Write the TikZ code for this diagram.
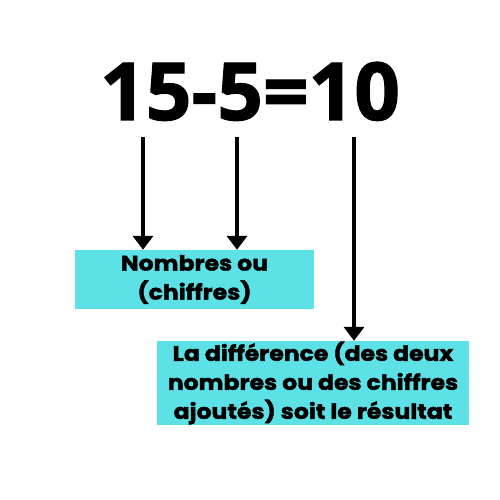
\documentclass[tikz,border=0pt]{standalone}
\usepackage{fontspec}
\setmainfont{Open Sans}
\newfontfamily\eqfont{Open Sans}[UprightFont={* Bold}, FakeBold=1.5]
\newfontfamily\boxfont{Poppins}[UprightFont={* Bold}, FakeBold=2, FakeStretch=1.12]
\usetikzlibrary{arrows.meta}
\definecolor{boxcyan}{HTML}{5CE1E6}
\tikzset{
  labelbox/.style={fill=boxcyan, inner sep=0pt, align=center, font=\boxfont\fontsize{21}{29}\selectfont},
  pointer/.style={line width=4pt, -{Triangle[width=20pt,length=14pt]}}
}
\begin{document}
\begin{tikzpicture}[x=1pt,y=-1pt]
\useasboundingbox[fill=white] (0,0) rectangle (500,500);
\node[anchor=base, inner sep=0pt, font=\eqfont\fontsize{80}{80}\selectfont] (eq) at (250,120) {15-5=10};
\node[labelbox, minimum width=239pt, minimum height=59pt] (b1) at (194.5,279.5) {Nombres ou\\(chiffres)};
\node[labelbox, minimum width=312pt, minimum height=84pt] (b2) at (313,383) {La différence (des deux\\nombres ou des chiffres\\ajoutés) soit le résultat};
\coordinate (s1) at (143,137);
\coordinate (s2) at (237,137);
\coordinate (s3) at (354,137);
\draw[pointer] (s1) -- (s1 |- b1.north);
\draw[pointer] (s2) -- (s2 |- b1.north);
\draw[pointer] (s3) -- (s3 |- b2.north);
\end{tikzpicture}
\end{document}
